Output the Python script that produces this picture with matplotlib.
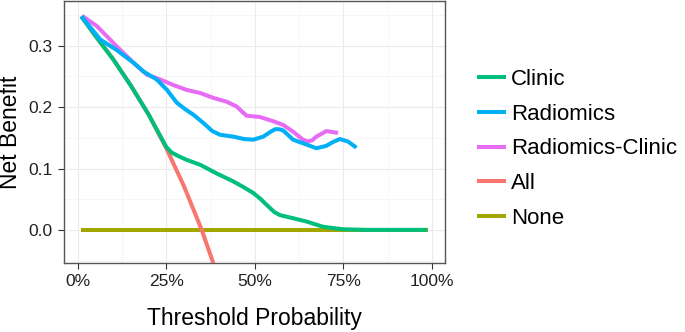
import matplotlib.pyplot as plt
from matplotlib.ticker import MultipleLocator, FuncFormatter

plt.rcParams["font.family"] = ["Liberation Sans", "DejaVu Sans"]

# threshold probabilities (%) and net benefit values
clinic_x = [1, 5, 10, 15, 20, 25, 26.5, 28.5, 30.8, 34.6, 39.2, 43.9, 47, 49.6, 51.5,
            53.3, 55.5, 57.1, 60.8, 64.6, 69.3, 74.9, 81.5, 90, 98.7]
clinic_y = [0.348, 0.316, 0.278, 0.235, 0.188, 0.135, 0.126, 0.12, 0.114, 0.106,
            0.092, 0.079, 0.069, 0.06, 0.051, 0.041, 0.029, 0.024, 0.019, 0.0136,
            0.005, 0.001, 0.0, 0.0, 0.0]

radiomics_x = [1.0, 6.4, 11, 15.8, 18.6, 22.3, 25.2, 28, 30.5, 32.7, 35.5, 38, 40.2,
               43.9, 47, 49.6, 52.4, 54.5, 55.7, 57, 58, 60.8, 64.6, 67.4, 70.2, 72,
               74, 76.3, 78.7]
radiomics_y = [0.348, 0.31, 0.293, 0.272, 0.258, 0.245, 0.228, 0.207, 0.196, 0.1875,
               0.174, 0.161, 0.155, 0.152, 0.148, 0.147, 0.152, 0.16, 0.164, 0.164,
               0.162, 0.147, 0.139, 0.133, 0.137, 0.143, 0.148, 0.144, 0.134]

combined_x = [1.2, 5.4, 11, 15.8, 19.5, 23.3, 27, 30.8, 34.6, 38.3, 42, 44.9, 46.5,
              47.7, 51.4, 55.2, 58, 60.8, 63.6, 65, 66.2, 67.4, 70.2, 73.5]
combined_y = [0.349, 0.332, 0.299, 0.272, 0.253, 0.245, 0.236, 0.228, 0.223, 0.215,
              0.209, 0.201, 0.192, 0.186, 0.184, 0.177, 0.171, 0.160, 0.147, 0.144,
              0.146, 0.152, 0.161, 0.158]

all_x = [1, 5, 10, 15, 20, 25, 30, 35, 40]
all_y = [0.348, 0.316, 0.278, 0.235, 0.188, 0.133, 0.071, 0.0, -0.083]

none_x = [1, 99]
none_y = [0.0, 0.0]

labels = ["Clinic", "Radiomics", "Radiomics-Clinic", "All", "None"]
colors = ["#00BF7D", "#00B0F6", "#E76BF3", "#F8766D", "#A3A500"]

fig = plt.figure(figsize=(6.85, 3.32), dpi=100)
ax = fig.add_axes([0.0934, 0.2078, 0.5562, 0.7892])

lw = 2.9
# drawing order: bottom first
series = [
    (none_x, none_y, 4),
    (all_x, all_y, 3),
    (clinic_x, clinic_y, 0),
    (combined_x, combined_y, 2),
    (radiomics_x, radiomics_y, 1),
]
handles = {}
for z, (xs, ys, idx) in enumerate(series):
    (h,) = ax.plot([v / 100 for v in xs], ys, color=colors[idx], lw=lw,
                   solid_capstyle="butt", solid_joinstyle="round",
                   label=labels[idx], zorder=3 + z)
    handles[idx] = h

ax.set_xlim(-0.039, 1.037)
ax.set_ylim(-0.054, 0.373)
ax.xaxis.set_major_locator(MultipleLocator(0.25))
ax.xaxis.set_minor_locator(MultipleLocator(0.125))
ax.yaxis.set_major_locator(MultipleLocator(0.1))
ax.yaxis.set_minor_locator(MultipleLocator(0.05))
ax.xaxis.set_major_formatter(FuncFormatter(lambda v, p: f"{v * 100:.0f}%"))
ax.yaxis.set_major_formatter(FuncFormatter(lambda v, p: f"{v:.1f}"))
ax.grid(which="major", color="#EBEBEB", lw=0.8)
ax.grid(which="minor", color="#F3F3F3", lw=0.5)
ax.set_axisbelow(True)
ax.tick_params(which="major", labelsize=12.5, length=4, color="#333333",
               labelcolor="#222222", pad=4)
ax.tick_params(which="minor", length=0)
for s in ax.spines.values():
    s.set_color("#555555")
    s.set_linewidth(1.0)

ax.set_xlabel("Threshold Probability", fontsize=16.5, labelpad=13)
ax.set_ylabel("Net Benefit", fontsize=16.5, labelpad=5)

fig.legend([handles[i] for i in range(5)], labels, loc="upper left",
           bbox_to_anchor=(0.667, 0.853), frameon=False, fontsize=16,
           handlelength=1.3, handletextpad=0.25, labelspacing=0.62)

fig.savefig("out.png", dpi=100)
